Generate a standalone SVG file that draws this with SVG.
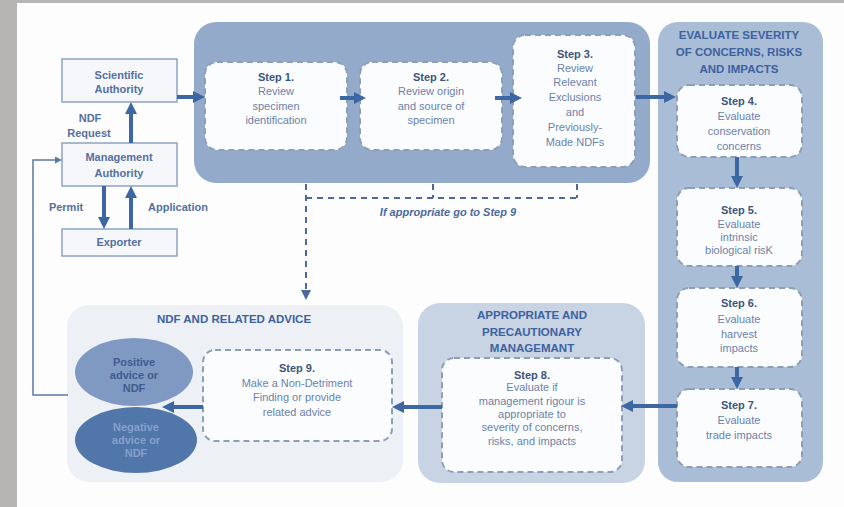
<svg xmlns="http://www.w3.org/2000/svg" width="844" height="507" viewBox="0 0 844 507">
<style>
text{font-family:"Liberation Sans",Arial,sans-serif;text-anchor:middle}
.st{font-size:11px;font-weight:bold;fill:#3b5580}
.bt{font-size:11px;fill:#6b82a9}
.tt{font-size:11.5px;font-weight:bold;fill:#3c62a0}
.lb{font-size:11px;font-weight:bold;fill:#5470a0}
.box{fill:#f5f7fb;stroke:#8ea3c3;stroke-width:1.5}
.step{fill:#fbfcfe;stroke:#8d9fb8;stroke-width:2;stroke-dasharray:6 4}
.arr{stroke:#3d67a3;stroke-width:4;fill:none;marker-end:url(#ah)}
.dash{stroke:#4a6a9e;stroke-width:2;fill:none;stroke-dasharray:6 5}
</style>
<defs>
<marker id="ah" markerUnits="userSpaceOnUse" markerWidth="12" markerHeight="12" viewBox="0 0 12 12" refX="4" refY="6" orient="auto"><path d="M0,0 L12,6 L0,12 z" fill="#3d67a3"/></marker>
<marker id="dh" markerUnits="userSpaceOnUse" markerWidth="10" markerHeight="10" viewBox="0 0 10 10" refX="2" refY="5" orient="auto"><path d="M0,0 L10,5 L0,10 z" fill="#4a6a9e"/></marker>
<marker id="fh" markerUnits="userSpaceOnUse" markerWidth="7" markerHeight="7" viewBox="0 0 7 7" refX="2" refY="3.5" orient="auto"><path d="M0,0 L7,3.5 L0,7 z" fill="#5a78a6"/></marker>
</defs>
<rect x="0" y="0" width="844" height="507" fill="#fdfdfd"/>
<rect x="0" y="0" width="17" height="507" fill="#b6b5b3"/>
<rect x="0" y="0" width="844" height="3" fill="#b6b5b3"/>

<g id="panel-top"><rect x="194" y="22" width="456" height="161" rx="22" fill="#93aacb"/></g>
<g id="panel-severity"><rect x="658" y="22" width="165" height="460" rx="20" fill="#aabdd6"/>
<text class="tt" x="739" y="39">EVALUATE SEVERITY</text>
<text class="tt" x="739" y="56">OF CONCERNS, RISKS</text>
<text class="tt" x="739" y="73">AND IMPACTS</text></g>
<g id="panel-management"><rect x="418" y="303" width="227" height="180" rx="22" fill="#c8d3e3"/>
<text class="tt" x="532" y="319">APPROPRIATE AND</text>
<text class="tt" x="532" y="336">PRECAUTIONARY</text>
<text class="tt" x="532" y="352">MANAGEMANT</text></g>
<g id="panel-ndf"><rect x="67" y="305" width="336" height="177" rx="22" fill="#edf1f6"/>
<text class="tt" x="234" y="323">NDF AND RELATED ADVICE</text></g>

<g id="scientific-authority"><rect class="box" x="62" y="59" width="115" height="43"/>
<text class="lb" x="119" y="79">Scientific</text><text class="lb" x="119" y="93">Authority</text></g>
<g id="management-authority"><rect class="box" x="62" y="143" width="115" height="43"/>
<text class="lb" x="119" y="161">Management</text><text class="lb" x="119" y="177">Authority</text></g>
<g id="exporter"><rect class="box" x="62" y="229" width="115" height="27"/>
<text class="lb" x="119" y="246">Exporter</text></g>

<g id="step1"><rect class="step" x="205" y="62" width="142" height="88" rx="12"/>
<text class="st" x="276" y="81">Step 1.</text><text class="bt" x="276" y="95">Review</text><text class="bt" x="276" y="110">specimen</text><text class="bt" x="276" y="124">identification</text></g>
<g id="step2"><rect class="step" x="360" y="62" width="142" height="88" rx="12"/>
<text class="st" x="431" y="81">Step 2.</text><text class="bt" x="431" y="95">Review origin</text><text class="bt" x="431" y="110">and source of</text><text class="bt" x="431" y="124">specimen</text></g>
<g id="step3"><rect class="step" x="513" y="35" width="122" height="132" rx="12"/>
<text class="st" x="575" y="58">Step 3.</text><text class="bt" x="575" y="72">Review</text><text class="bt" x="575" y="86">Relevant</text><text class="bt" x="575" y="101">Exclusions</text><text class="bt" x="575" y="116">and</text><text class="bt" x="575" y="131">Previously-</text><text class="bt" x="575" y="146">Made NDFs</text></g>
<g id="step4"><rect class="step" x="677" y="85" width="125" height="72" rx="12"/>
<text class="st" x="739" y="105">Step 4.</text><text class="bt" x="739" y="120">Evaluate</text><text class="bt" x="739" y="135">conservation</text><text class="bt" x="739" y="150">concerns</text></g>
<g id="step5"><rect class="step" x="677" y="188" width="125" height="78" rx="12"/>
<text class="st" x="739" y="214">Step 5.</text><text class="bt" x="739" y="228">Evaluate</text><text class="bt" x="739" y="241">intrinsic</text><text class="bt" x="739" y="254">biological risK</text></g>
<g id="step6"><rect class="step" x="677" y="288" width="125" height="79" rx="12"/>
<text class="st" x="739" y="307">Step 6.</text><text class="bt" x="739" y="323">Evaluate</text><text class="bt" x="739" y="338">harvest</text><text class="bt" x="739" y="352">impacts</text></g>
<g id="step7"><rect class="step" x="677" y="389" width="125" height="78" rx="12"/>
<text class="st" x="739" y="409">Step 7.</text><text class="bt" x="739" y="424">Evaluate</text><text class="bt" x="739" y="439">trade impacts</text></g>
<g id="step8"><rect class="step" x="442" y="358" width="180" height="114" rx="12"/>
<text class="st" x="532" y="379">Step 8.</text><text class="bt" x="532" y="391">Evaluate if</text><text class="bt" x="532" y="405">management rigour is</text><text class="bt" x="532" y="418">appropriate to</text><text class="bt" x="532" y="431">severity of concerns,</text><text class="bt" x="532" y="445">risks, and impacts</text></g>
<g id="step9"><rect class="step" x="203" y="350" width="189" height="91" rx="12"/>
<text class="st" x="297" y="372">Step 9.</text><text class="bt" x="297" y="387">Make a Non-Detriment</text><text class="bt" x="297" y="401">Finding or provide</text><text class="bt" x="297" y="416">related advice</text></g>
<g id="positive-advice"><ellipse cx="134" cy="372" rx="59" ry="34" fill="#8099c2"/>
<text class="lb" x="134" y="366" style="fill:#3e5c8f">Positive</text><text class="lb" x="134" y="379" style="fill:#3e5c8f">advice or</text><text class="lb" x="134" y="392" style="fill:#3e5c8f">NDF</text></g>
<g id="negative-advice"><ellipse cx="136" cy="440" rx="61" ry="33" fill="#5076aa"/>
<text class="lb" x="136" y="431" style="fill:#86a0cc">Negative</text><text class="lb" x="136" y="444" style="fill:#86a0cc">advice or</text><text class="lb" x="136" y="457" style="fill:#86a0cc">NDF</text></g>

<g id="connectors">
<line class="arr" x1="177" y1="97" x2="197" y2="97"/>
<line class="arr" x1="340" y1="98" x2="358" y2="98"/>
<line class="arr" x1="495" y1="98" x2="514" y2="98"/>
<line class="arr" x1="636" y1="97" x2="668" y2="97"/>
<line class="arr" x1="737" y1="157" x2="737" y2="180"/>
<line class="arr" x1="737" y1="266" x2="737" y2="280"/>
<line class="arr" x1="737" y1="367" x2="737" y2="381"/>
<line class="arr" x1="677" y1="406" x2="629" y2="406"/>
<line class="arr" x1="442" y1="407" x2="400" y2="407"/>
<line class="arr" x1="203" y1="407" x2="170" y2="407"/>
<line class="arr" x1="131" y1="143" x2="131" y2="110"/>
<line class="arr" x1="104" y1="186" x2="104" y2="221"/>
<line class="arr" x1="131" y1="229" x2="131" y2="194"/>
<line class="dash" x1="306" y1="184" x2="306" y2="292" style="marker-end:url(#dh)"/>
<line class="dash" x1="306" y1="198" x2="578" y2="198"/>
<line class="dash" x1="433" y1="184" x2="433" y2="198"/>
<line class="dash" x1="577" y1="184" x2="577" y2="198"/>
<polyline points="68,395 33,395 33,160 57,160" fill="none" stroke="#5a78a6" stroke-width="1.5" marker-end="url(#fh)"/>
<text class="lb" x="90" y="122">NDF</text>
<text class="lb" x="89" y="137">Request</text>
<text class="lb" x="66" y="211">Permit</text>
<text class="lb" x="178" y="211">Application</text>
<text x="448" y="216" style="font-size:11px;font-weight:bold;font-style:italic;fill:#4a6a9e">If appropriate go to Step 9</text>
</g>
</svg>
